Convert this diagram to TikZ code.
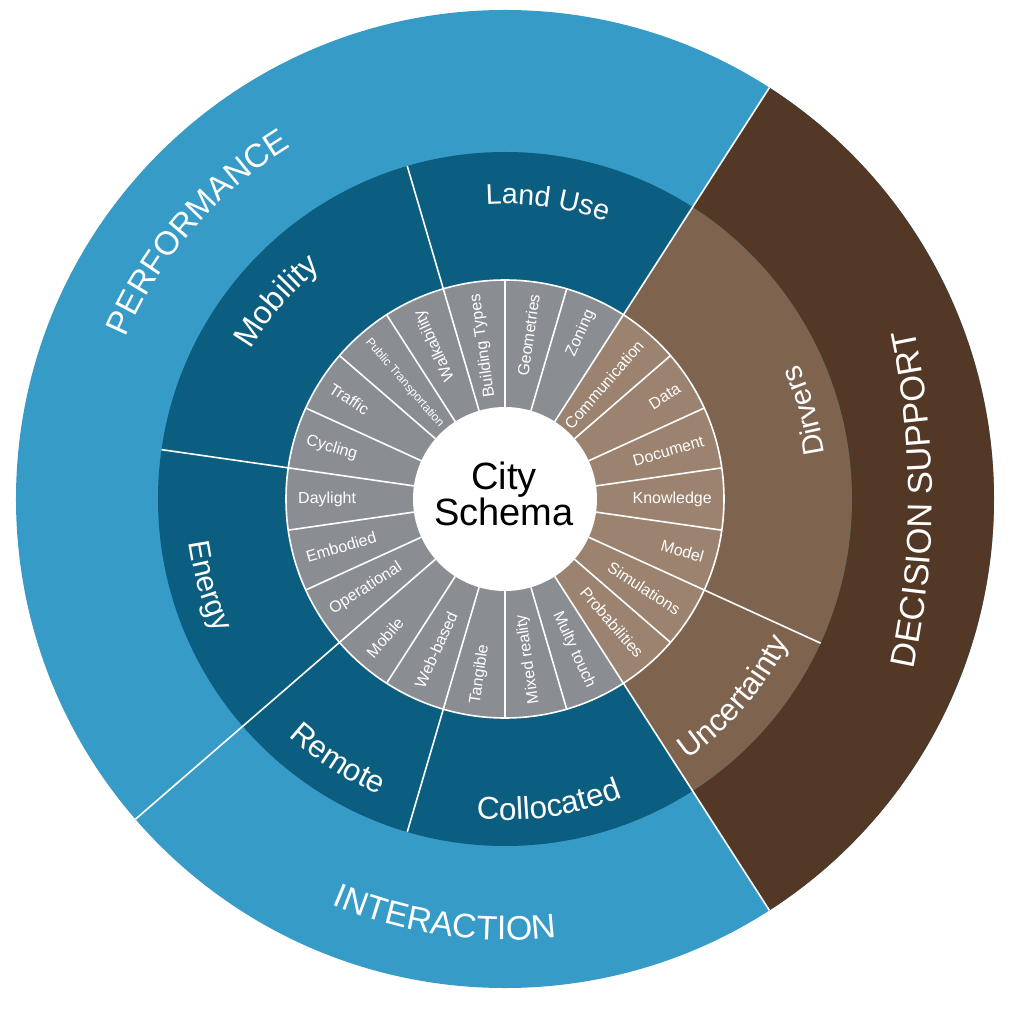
\documentclass[tikz,border=0pt]{standalone}
\usepackage{fontspec}
\setmainfont{Liberation Sans}
\usepackage{xcolor}
\usepackage{tikz}
\usetikzlibrary{decorations.text}

\definecolor{perfblue}{RGB}{55,155,199}
\definecolor{groupblue}{RGB}{12,94,128}
\definecolor{leafgray}{RGB}{138,142,146}
\definecolor{decbrown}{RGB}{84,56,38}
\definecolor{groupbrown}{RGB}{126,99,79}
\definecolor{leafbrown}{RGB}{156,131,111}

\newcommand{\leaffont}{\fontsize{16}{18}\selectfont}
\newcommand{\groupfont}[1]{\fontsize{#1}{32}\selectfont}

\tikzset{
    sep/.style={white, line width=1.6pt},
    leaf/.style={text=white, inner sep=0pt, font=\leaffont},
    arctext/.style={decorate, decoration={text along path, text align=center, text color=white, text={#1}}},
}

\begin{document}
\begin{tikzpicture}[x=1pt, y=1pt]
        \useasboundingbox (-505,-523) rectangle (519,499);

        \fill[perfblue] (0,0) circle (489);
        \fill[decbrown] (0,0) -- (-57.27:489) arc[start angle=-57.27, end angle=57.27, radius=489] -- cycle;
        \fill[groupblue] (0,0) circle (347);
        \fill[groupbrown] (0,0) -- (-57.27:347) arc[start angle=-57.27, end angle=57.27, radius=347] -- cycle;
        \fill[leafgray] (0,0) circle (219);
        \fill[leafbrown] (0,0) -- (-57.27:219) arc[start angle=-57.27, end angle=57.27, radius=219] -- cycle;

        \foreach \k in {0,...,21}
            \draw[sep] ({57.27+\k*360/22}:92) -- ({57.27+\k*360/22}:219);
        \draw[sep] (0,0) circle (219);
        \draw[sep] (57.27:219) -- (57.27:489);
        \draw[sep] (-57.27:219) -- (-57.27:489);
        \draw[sep] (220.91:219) -- (220.91:489);
        \draw[sep] (106.36:219) -- (106.36:347);
        \draw[sep] (171.82:219) -- (171.82:347);
        \draw[sep] (253.64:219) -- (253.64:347);
        \draw[sep] (-24.55:219) -- (-24.55:347);
        \fill[white] (0,0) circle (92);

        \node[font=\fontsize{38}{36}\selectfont, align=center, inner sep=0pt] (city) at (-1,5) {City\\Schema};

        \node[leaf, rotate=65.45, anchor=east] (zoning) at (65.45:207) {Zoning};
        \node[leaf, rotate=81.82, anchor=east] (geometries) at (81.82:207) {Geometries};
        \node[leaf, rotate=98.18, anchor=east] (buildingtypes) at (98.18:207) {Building Types};
        \node[leaf, rotate=114.55, anchor=east] (walkability) at (114.55:207) {Walkability};
        \node[leaf, rotate=-49.09, anchor=west, font=\fontsize{12}{13}\selectfont] (publictransport) at (130.91:210) {Public Transportation};
        \node[leaf, rotate=-32.73, anchor=west] (traffic) at (147.27:207) {Traffic};
        \node[leaf, rotate=-16.36, anchor=west] (cycling) at (163.64:207) {Cycling};
        \node[leaf, rotate=0, anchor=west] (daylight) at (180:207) {Daylight};
        \node[leaf, rotate=16.36, anchor=west] (embodied) at (196.36:207) {Embodied};
        \node[leaf, rotate=32.73, anchor=west] (operational) at (212.73:207) {Operational};
        \node[leaf, rotate=49.09, anchor=west] (mobile) at (229.09:207) {Mobile};
        \node[leaf, rotate=65.45, anchor=west] (webbased) at (245.45:207) {Web-based};
        \node[leaf, rotate=81.82, anchor=west] (tangible) at (261.82:207) {Tangible};
        \node[leaf, rotate=98.18, anchor=west] (mixedreality) at (278.18:207) {Mixed reality};
        \node[leaf, rotate=-65.45, anchor=east] (multytouch) at (-65.45:207) {Multy touch};
        \node[leaf, rotate=-49.09, anchor=east] (probabilities) at (-49.09:207) {Probabilities};
        \node[leaf, rotate=-32.73, anchor=east] (simulations) at (-32.73:207) {Simulations};
        \node[leaf, rotate=-16.36, anchor=east] (model) at (-16.36:207) {Model};
        \node[leaf, rotate=0, anchor=east] (knowledge) at (0:207) {Knowledge};
        \node[leaf, rotate=16.36, anchor=east] (document) at (16.36:207) {Document};
        \node[leaf, rotate=32.73, anchor=east] (data) at (32.73:207) {Data};
        \node[leaf, rotate=49.09, anchor=east] (communication) at (49.09:207) {Communication};

        \path[arctext={|\groupfont{28.5}|Land Use}] (111.82:295) arc[start angle=111.82, end angle=51.82, radius=295];
        \path[arctext={|\groupfont{32}|Mobility}] (169.09:295) arc[start angle=169.09, end angle=109.09, radius=295];
        \path[arctext={|\groupfont{30}|Energy}] (171.36:319) arc[start angle=171.36, end angle=221.36, radius=319];
        \path[arctext={|\groupfont{31}|Remote}] (212.27:321) arc[start angle=212.27, end angle=262.27, radius=321];
        \path[arctext={|\groupfont{31.5}|Collocated}] (253.18:321) arc[start angle=253.18, end angle=303.18, radius=321];
        \path[arctext={|\groupfont{31}|Uncertainty}] (294.09:318) arc[start angle=294.09, end angle=344.09, radius=318];
        \path[arctext={|\groupfont{29.5}|Dirvers}] (-8.64:323) arc[start angle=-8.64, end angle=41.36, radius=323];

        \path[arctext={|\groupfont{33}|PERFORMANCE}] (184.09:412) arc[start angle=184.09, end angle=94.09, radius=412];
        \path[arctext={|\groupfont{34}|INTERACTION}] (226.82:441) arc[start angle=226.82, end angle=296.82, radius=441];
        \path[arctext={|\groupfont{34.5}|DECISION SUPPORT}] (399.4,-209.4) arc[start angle=-15, end angle=15, radius=809];
\end{tikzpicture}
\end{document}
